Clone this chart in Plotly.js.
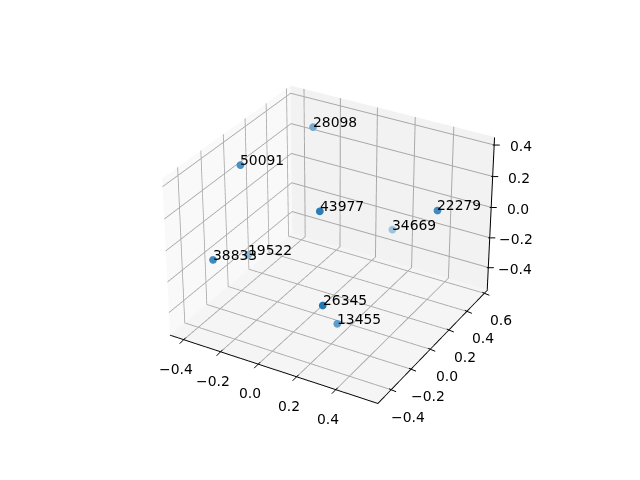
<!DOCTYPE html>
<html><head><meta charset="utf-8">
<script src="https://cdn.plot.ly/plotly-3.0.1.min.js"></script>
<style>html,body{margin:0;padding:0;background:#fff;overflow:hidden;width:640px;height:480px}
#wrap{position:absolute;left:0;top:0;width:640px;height:480px;overflow:hidden}
#chart{position:absolute}</style></head>
<body><div id="wrap"><div id="chart"></div></div>
<script>
var labels = ["28098","50091","43977","22279","34669","38833","19522","26345","13455"];
var xs = [-0.192,-0.387,0.142,0.532,0.110,-0.305,-0.418,0.264,0.178];
var ys = [0.35,0.0,-0.2,0.2,0.6,-0.4,0.1,-0.4,-0.1];
var zs = [0.409,0.284,0.279,0.197,-0.298,-0.071,-0.371,-0.148,-0.488];
var alphas = [0.6,0.8,0.95,0.85,0.4,0.85,0.5,1,0.7];
var xTicks = [-0.4,-0.2,0,0.2,0.4];
var yTicks = [-0.4,-0.2,0,0.2,0.4,0.6];
var zTicks = [-0.4,-0.2,0,0.2,0.4];
var xRange = [-0.475,0.61], yRange = [-0.53,0.64], zRange = [-0.55,0.45];

var W=2102,H=1577,S=1,D=8, CX=332, CY=236;
var el=document.getElementById("chart");
el.style.width=W+"px"; el.style.height=H+"px";
el.style.left=(CX-W/2)+"px"; el.style.top=(CY-H/2)+"px";
var fam="DejaVu Sans", fpx=13.9;
function fmt(v){return (v<0?"\u2212":"")+Math.abs(v).toFixed(1);}
function ann(x,y,z,t,xa,ya,dx,dy){return {x:x,y:y,z:z,text:t,showarrow:false,xanchor:xa,yanchor:ya,xshift:dx,yshift:-dy,
  borderpad:0,borderwidth:0,font:{family:fam,size:fpx,color:"#000"}};}
function tick(x,y,z,ax,ay){return {x:x,y:y,z:z,text:" ",showarrow:true,arrowhead:0,arrowwidth:1,arrowcolor:"#000",ax:ax,ay:ay,standoff:0,
  borderpad:0,borderwidth:0,font:{size:1}};}
function mix(a){var b=245,c=[31,119,180].map(function(v){return Math.round(v*a+b*(1-a));});return "rgb("+c.join(",")+")";}
var anns=[];
labels.forEach(function(t,i){anns.push(ann(xs[i],ys[i],zs[i],t,"left","middle",0,-5));});
xTicks.forEach(function(v){anns.push(ann(v,yRange[0],zRange[0],fmt(v),"center","middle",-8,29));
  anns.push(tick(v,yRange[0],zRange[0],-4,4)); anns.push(tick(v,yRange[0],zRange[0],2,-2));});
yTicks.forEach(function(v){anns.push(ann(xRange[1],v,zRange[0],fmt(v),"center","middle",16.5,27));
  anns.push(tick(xRange[1],v,zRange[0],5,2)); anns.push(tick(xRange[1],v,zRange[0],-2,-1));});
zTicks.forEach(function(v){anns.push(ann(xRange[1],yRange[1],v,fmt(v),"center","middle",26,1));
  anns.push(tick(xRange[1],yRange[1],v,5,0)); anns.push(tick(xRange[1],yRange[1],v,-2,0));});
function axis(vals,range,bg,native){return {
  range:range, tickmode:"array", tickvals:vals, ticktext:vals.map(fmt), showticklabels:false,
  showbackground:true, backgroundcolor:bg, gridcolor:"#a8a8a8", gridwidth:2, zeroline:false,
  showline:native, linecolor:"#000", linewidth:2, ticks:"",
  title:{text:""}, showspikes:false};}
var points={type:"scatter3d",mode:"markers",x:xs,y:ys,z:zs,hoverinfo:"skip",
  marker:{size:4.5,color:alphas.map(mix),line:{width:0}}};
var inset=0.002;
var zEdge={type:"scatter3d",mode:"lines",x:[xRange[1]-inset,xRange[1]-inset],y:[yRange[1]-inset,yRange[1]-inset],z:[zRange[0]+inset,zRange[1]-inset],hoverinfo:"skip",
  line:{color:"#000",width:2}};
var n=[0.433,-0.75,0.5], d=D*S;
Plotly.newPlot(el,[points,zEdge],
  {width:W,height:H,showlegend:false,paper_bgcolor:"rgba(0,0,0,0)",margin:{l:0,r:0,t:0,b:0},
   scene:{domain:{x:[0,1],y:[0,1]},aspectmode:"manual",aspectratio:{x:S,y:S,z:0.75*S},
     camera:{eye:{x:n[0]*d,y:n[1]*d,z:n[2]*d},center:{x:0,y:0,z:0},up:{x:0,y:0,z:1},projection:{type:"perspective"}},
     xaxis:axis(xTicks,xRange,"#f9f9f9",true),
     yaxis:axis(yTicks,yRange,"#f2f2f2",true),
     zaxis:axis(zTicks,zRange,"#f5f5f5",false),
     annotations:anns}},
  {displayModeBar:false});
</script></body></html>
